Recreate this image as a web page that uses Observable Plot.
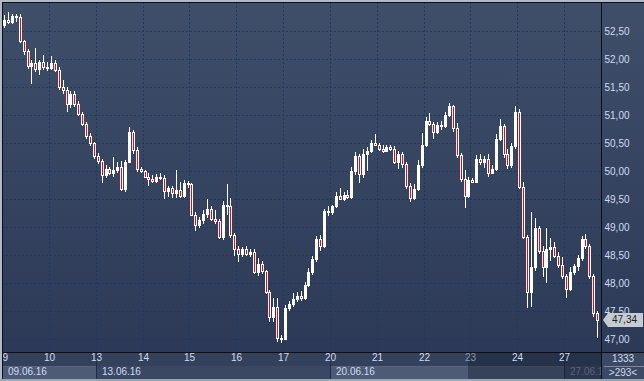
<!DOCTYPE html>
<html><head><meta charset="utf-8">
<script src="https://cdn.jsdelivr.net/npm/d3@7"></script>
<script src="https://cdn.jsdelivr.net/npm/@observablehq/plot@0.6"></script>
<style>
html,body{margin:0;padding:0;background:#2f3c58;}
#wrap{position:relative;width:644px;height:381px;overflow:hidden;font-family:"Liberation Sans",Arial,sans-serif;font-size:10px;color:#cfdbef;}
#wrap div.abs{position:absolute;}
#chart{position:absolute;left:0;top:0;}
.lbl{position:absolute;white-space:nowrap;line-height:12px;}
</style></head><body><div id="wrap"></div>
<script>
// ---- data ----
const days = ["09","10","13","14","15","16","17","20","21","22","23","24","27"];
const weekLabels = ["09.06.16","13.06.16","20.06.16","27.06.16"];
const weekStartDay = [0, 2, 7, 12];
const yTicks = [47.0,47.5,48.0,48.5,49.0,49.5,50.0,50.5,51.0,51.5,52.0,52.5];
const barsPerDay = 12;
const firstOpen = 52.60;
const closes = [
 52.70,52.66,52.76,52.75,52.32,52.15,51.88,51.92,51.82,51.95,51.86,51.84,
 51.93,51.80,51.50,51.44,51.20,51.38,51.20,51.02,50.84,50.62,50.50,50.26,
 50.18,49.92,50.04,49.96,50.02,50.08,49.68,50.16,50.70,50.38,50.04,50.00,
 49.90,49.86,49.82,49.90,49.88,49.64,49.70,49.60,49.66,49.56,49.78,49.76,
 49.22,49.04,49.12,49.24,49.32,49.14,49.10,48.82,49.40,49.38,48.85,48.60,
 48.52,48.60,48.52,48.56,48.20,48.34,48.22,47.84,47.40,47.58,47.02,47.00,
 47.56,47.62,47.72,47.76,47.74,47.96,48.20,48.42,48.78,48.66,49.28,49.26,
 49.38,49.56,49.50,49.58,49.54,50.00,50.26,49.94,50.30,50.36,50.50,50.46,
 50.40,50.36,50.42,50.40,50.16,50.30,50.12,49.74,49.52,49.68,50.10,50.46,
 50.90,50.84,50.70,50.82,50.80,51.00,51.16,50.76,50.28,49.86,49.56,49.84,
 49.80,50.22,50.16,50.22,49.96,50.04,50.58,50.80,50.30,50.10,50.44,51.06,
 49.72,48.82,47.84,48.28,48.98,48.58,48.28,48.60,48.64,48.48,48.32,48.12,
 47.90,48.20,48.30,48.44,48.78,48.66,48.12,47.46,47.34
];
const highs = [
 52.78,52.84,52.80,52.80,52.80,52.34,52.18,51.98,52.20,51.98,52.07,51.95,
 52.05,51.98,51.85,51.62,51.50,51.42,51.42,51.25,51.06,50.88,50.68,50.52,
 50.32,50.22,50.10,50.08,50.25,50.16,50.18,50.20,50.78,50.74,50.42,50.08,
 50.02,49.96,49.92,49.95,49.96,49.92,49.74,49.74,50.02,49.80,49.84,49.82,
 49.78,49.26,49.18,49.30,49.50,49.38,49.30,49.14,49.46,49.77,49.52,48.90,
 48.66,48.64,48.66,48.60,48.60,48.44,48.40,48.24,47.88,47.74,47.74,47.08,
 47.60,47.68,47.82,47.84,47.86,48.02,48.26,48.48,48.84,48.86,49.32,49.38,
 49.40,49.62,49.70,49.62,49.66,50.08,50.34,50.30,50.40,50.42,50.56,50.66,
 50.50,50.46,50.46,50.46,50.44,50.36,50.34,50.16,49.78,49.76,50.20,50.68,
 50.96,51.04,50.88,50.88,50.90,51.06,51.21,51.18,50.86,50.32,50.02,49.90,
 49.88,50.28,50.30,50.26,50.30,50.10,50.66,50.92,50.84,50.40,50.50,51.16,
 51.10,49.80,48.86,49.27,49.16,49.02,48.66,48.98,48.80,48.74,48.56,48.46,
 48.16,48.28,48.34,48.50,48.84,48.87,48.70,48.16,47.50
];
const lows = [
 52.55,52.62,52.62,52.66,52.28,52.08,51.82,51.55,51.76,51.72,51.80,51.78,
 51.80,51.76,51.45,51.38,51.05,51.12,51.15,50.98,50.80,50.58,50.45,50.22,
 50.12,49.78,49.88,49.92,49.90,49.96,49.64,49.62,50.14,50.30,49.98,49.96,
 49.88,49.74,49.78,49.78,49.84,49.50,49.54,49.52,49.52,49.52,49.52,49.70,
 49.20,48.92,48.98,49.06,49.16,49.10,49.06,48.78,48.76,49.22,48.80,48.48,
 48.38,48.46,48.48,48.46,48.16,48.12,48.16,47.80,47.30,47.30,46.95,46.93,
 46.98,47.50,47.58,47.66,47.68,47.70,47.92,48.14,48.38,48.58,48.62,49.20,
 49.22,49.34,49.48,49.46,49.50,49.50,49.92,49.78,49.88,50.00,50.32,50.44,
 50.36,50.32,50.34,50.36,50.12,50.04,50.06,49.68,49.44,49.48,49.64,50.06,
 50.42,50.80,50.58,50.66,50.74,50.76,50.96,50.70,50.24,49.80,49.34,49.52,
 49.78,49.78,50.10,50.06,49.90,49.94,50.00,50.54,50.24,50.04,50.06,50.40,
 49.68,48.78,47.55,47.58,48.22,48.52,48.10,48.00,48.40,48.44,48.26,48.08,
 47.74,47.86,48.14,48.22,48.40,48.60,48.08,47.40,47.02
];
const lastPrice = 47.34;
const totalBars = "1333";
const visibleBars = ">293<";

// ---- build ----
const fmt = d => d.toFixed(2).replace(".", ",");
const minBody = 0.018;
const candles = closes.map((c, i) => {
  const open = i === 0 ? firstOpen : closes[i - 1];
  const day = Math.floor(i / barsPerDay), j = i % barsPerDay;
  let top = Math.max(open, c), bot = Math.min(open, c);
  if (top - bot < minBody) { const m = (top + bot) / 2; top = m + minBody / 2; bot = m - minBody / 2; }
  return {x: day + (j + 0.5) / barsPerDay, open, close: c, high: highs[i], low: lows[i], top, bot, down: c < open};
});
const hw = 0.0214;
const gridColor = "#1c3865";
const textColor = "#cfdbef";

const chart = Plot.plot({
  width: 644, height: 381,
  marginLeft: 2, marginTop: 2, marginRight: 43, marginBottom: 29,
  x: {domain: [-0.0038, 12.79], axis: null, round: true},
  y: {domain: [46.768, 53.018], axis: null, round: true},
  style: {background: "transparent", fontFamily: "Liberation Sans, Arial, sans-serif", fontSize: "10px", color: textColor},
  marks: [
    Plot.ruleX(d3.range(days.length), {stroke: gridColor, strokeDasharray: "2,2", clip: true}),
    Plot.ruleY(yTicks, {stroke: gridColor, strokeDasharray: "2,2"}),
    Plot.ruleX(candles, {x: "x", y1: "low", y2: "high", stroke: "white", clip: true}),
    Plot.rect(candles, {x1: d => d.x - hw, x2: d => d.x + hw, y1: "bot", y2: "top", dx: 0.5, dy: 0.5,
      fill: d => d.down ? "#ff0000" : "none", stroke: "white", strokeWidth: 1, clip: true}),
    Plot.axisY({anchor: "right", ticks: yTicks, tickSize: 0, tickPadding: 3, tickFormat: fmt, fill: textColor, label: null}),
    Plot.text(days, {x: (d, i) => i, text: d => d, frameAnchor: "bottom", dy: 8.5,
      fill: (d, i) => i === 10 ? "#8c98ad" : textColor})
  ]
});

const wrap = document.getElementById("wrap");
const xs = chart.scale("x"), ys = chart.scale("y");
function box(l, t, w, h, style) {
  const d = document.createElement("div");
  d.className = "abs";
  Object.assign(d.style, {left: l + "px", top: t + "px", width: w + "px", height: h + "px"}, style || {});
  wrap.appendChild(d);
  return d;
}
function label(text, l, t, style) {
  const d = document.createElement("div");
  d.className = "lbl";
  d.textContent = text;
  Object.assign(d.style, {left: l + "px", top: t + "px"}, style || {});
  wrap.appendChild(d);
  return d;
}
// backgrounds
box(0, 0, 644, 352, {background: "linear-gradient(#3f4e69, #2c3a57)"});
box(0, 352, 644, 14, {background: "#33415d"});
box(0, 366, 644, 13, {background: "#3a4864"});
// week boxes in the date bar
const x0 = 2, x1 = 601;
weekStartDay.forEach((d, k) => {
  const l = Math.max(x0, Math.round(xs.apply(d)));
  const r = k + 1 < weekStartDay.length ? Math.round(xs.apply(weekStartDay[k + 1])) : x1;
  if (k % 2 === 0) box(l + 1, 366, Math.max(0, r - l - 1), 12, {background: "#4d5b77", borderTop: "1px solid #56647f"});
  box(r, 352, 1, 27, {background: "#1e2d4a"});
  label(weekLabels[k], l + 6, 366, {color: k === 3 ? "#8794a9" : textColor, width: (x1 - l - 6) + "px", overflow: "hidden"});
});
// darker shaded region on the time strip
const shadeL = Math.round(xs.apply(9.95));
box(shadeL, 353, x1 - shadeL, 26, {background: "rgba(18,26,44,0.38)"});
// bottom-right info box
box(602, 353, 42, 26, {background: "#3b4964"});
box(604, 366, 40, 1, {background: "#7d8aa0"});
label(totalBars, 602, 353, {width: "42px", textAlign: "center"});
label(visibleBars, 602, 367, {width: "42px", textAlign: "center"});

// chart svg
chart.id = "chart";
chart.style.position = "absolute"; chart.style.left = "0px"; chart.style.top = "0px";
wrap.appendChild(chart);

// frame lines
box(0, 0, 644, 2, {background: "#b1bac7"});
box(0, 0, 2, 381, {background: "#b1bac7"});
box(0, 379, 644, 2, {background: "#9aa5b6"});
box(2, 2, 642, 1, {background: "#0c0f16"});
box(2, 2, 1, 377, {background: "#0c0f16"});
box(2, 352, 642, 1, {background: "#0c0f16"});
box(601, 2, 1, 377, {background: "#0c0f16"});

// last price tag
const py = ys.apply(lastPrice);
box(603, Math.round(py) - 7, 40, 14, {background: "#c6cbd3", clipPath: "polygon(0 50%, 5px 0, 100% 0, 100% 100%, 5px 100%)"});
label(fmt(lastPrice), 607, Math.round(py) - 6, {color: "#1b1f27", width: "35px", textAlign: "center"});
</script></body></html>
